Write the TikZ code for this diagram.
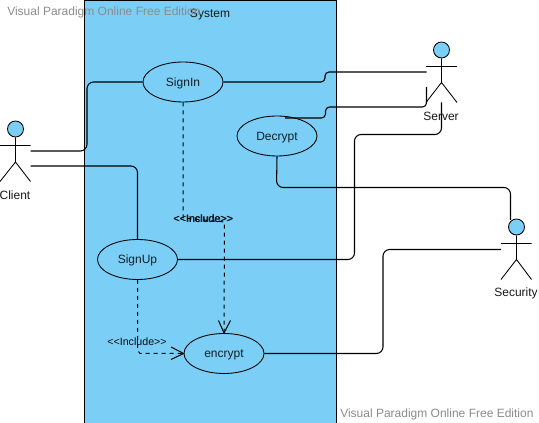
\documentclass[tikz,border=0pt]{standalone}
\usepackage{fontspec}
\setmainfont{Liberation Sans}
\usetikzlibrary{arrows.meta,shapes.geometric}
\definecolor{sysblue}{HTML}{7BCEF6}
\tikzset{
  x=0.75pt,y=-0.75pt,
  system/.style={draw=black,fill=sysblue,line width=0.8pt},
  usecase/.style={draw=black,fill=sysblue,ellipse,minimum width=60pt,minimum height=30pt,inner sep=0pt,line width=0.65pt,font=\fontsize{9pt}{10pt}\selectfont,text=black!85!sysblue,text height=8pt,text depth=1.6pt},
  actorline/.style={draw=black,line width=0.65pt},
  head/.style={draw=black,fill=sysblue,circle,minimum size=12pt,inner sep=0pt,line width=0.65pt},
  label/.style={font=\fontsize{9pt}{10pt}\selectfont,inner sep=0pt,text=black!90},
  wire/.style={draw=black,line width=0.8pt,rounded corners=5pt},
  dep/.style={draw=black,line width=0.75pt,dash pattern=on 3pt off 3pt},
  openhead/.style={draw=black,line width=0.75pt},
  stereo/.style={font=\fontsize{8pt}{9pt}\selectfont,inner sep=0pt,text=black!95},
  mark text/.style={font=\fontsize{9pt}{10pt}\selectfont,text=black!45,inner sep=0pt}
}
\newcommand{\incl}{<{}<Include>{}>}
\begin{document}
\begin{tikzpicture}
\useasboundingbox (0,0) rectangle (539,423);
\path[fill=white] (0,0) rectangle (539,423);
\draw[system] (84.5,0.5) rectangle (336.5,430);
\node[label] (systitle) at (210,14.5) {System};
\node[mark text,anchor=west] (wm1) at (7,12) {Visual Paradigm Online Free Edition};
\node[mark text,anchor=west] (wm2) at (340,414) {Visual Paradigm Online Free Edition};

\node[usecase] (signin) at (183,82) {SignIn};
\node[usecase] (decrypt) at (277,136) {Decrypt};
\node[usecase] (signup) at (137.5,259.5) {SignUp};
\node[usecase] (encrypt) at (224,353.5) {encrypt};

% actors
\node[head] (clienthead) at (15.5,129) {};
\draw[actorline] (clienthead.south) -- (15.5,162) -- (0,181.5) (15.5,162) -- (30.5,181.5) (0,145.5) -- (30.5,145.5);
\node[label] (clientlabel) at (15,195) {Client};
\node[head] (serverhead) at (441.5,50) {};
\draw[actorline] (serverhead.south) -- (441.5,82.5) -- (426,102.5) (441.5,82.5) -- (457,102.5) (426,66.5) -- (457,66.5);
\node[label] (serverlabel) at (441,116) {Server};
\node[head] (securityhead) at (516.5,227) {};
\draw[actorline] (securityhead.south) -- (516.5,259.5) -- (501,279.5) (516.5,259.5) -- (531.5,279.5) (501,243.5) -- (531.5,243.5);
\node[label] (securitylabel) at (516,293.5) {Security};

\coordinate (c1) at (30.5,151);
\coordinate (c2) at (30.5,166);
\coordinate (s1) at (426.5,72);
\coordinate (s2) at (426.5,87);
\coordinate (s3) at (441.5,102.5);
\coordinate (d1) at (285,118);
\coordinate (k1) at (510.5,220);
\coordinate (k2) at (501,249.5);

\draw[wire] (c1) -- (87,151) -- (87,82) -- (signin.west);
\draw[wire] (c2) -- (137.5,166) -- (signup.north);
\draw[wire,rounded corners=3pt] (signin.east) -- (325,82) -- (325,72) -- (s1);
\draw[wire,rounded corners=3pt] (d1) -- (325.5,118) -- (325.5,107) -- (426.5,107) -- (s2);
\draw[wire] (signup.east) -- (354.5,259.5) -- (354.5,134.5) -- (441.5,134.5) -- (s3);
\draw[wire] (decrypt.south) -- (276.5,187.5) -- (510.5,187.5) -- (k1);
\draw[wire] (encrypt.east) -- (383,353.5) -- (383,249.5) -- (k2);

\draw[dep] (signin.south) -- (183,218) -- (224.5,222) -- (encrypt.north);
\draw[dep] (signup.south) -- (137.5,350) -- (140,353.5) -- (encrypt.west);
\draw[openhead] (218.5,320.5) -- (encrypt.north) -- (230.5,320.5);
\draw[openhead] (171,347) -- (encrypt.west) -- (171,359.5);

\node[stereo] (inc1a) at (203,218.5) {\incl};
\node[stereo] (inc1b) at (203.6,218.5) {\incl};
\node[stereo] (inc2) at (137,341.5) {\incl};
\end{tikzpicture}
\end{document}
